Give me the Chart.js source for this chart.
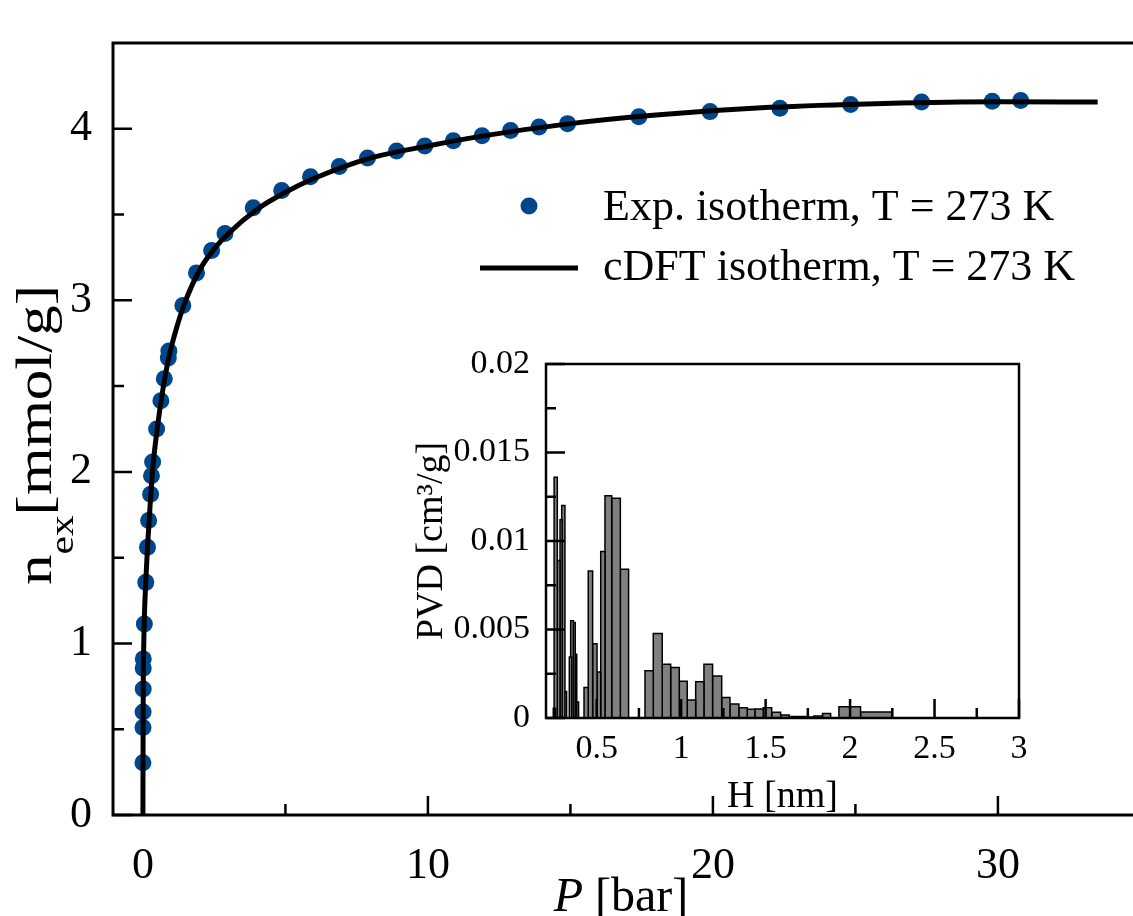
<!DOCTYPE html>
<html>
<head>
<meta charset="utf-8">
<script src="https://cdn.jsdelivr.net/npm/chart.js@4.4.1/dist/chart.umd.min.js"></script>
<style>
  body { margin: 0; background: #fff; }
  #wrap { position: relative; width: 1133px; height: 916px; overflow: hidden; }
  #main { position: absolute; left: 0; top: 0; }
  #inset { position: absolute; left: 380px; top: 330px; }
</style>
</head>
<body>
<div id="wrap">
  <canvas id="main" width="1133" height="916"></canvas>
  <canvas id="inset" width="680" height="500"></canvas>
</div>
<script>
// experimental isotherm (P in bar, n in mmol/g)
const expP = [0.0, 0.003, 0.005, 0.01, 0.01, 0.012, 0.05, 0.1, 0.16, 0.2, 0.27, 0.3, 0.34, 0.48, 0.63, 0.75, 0.89, 0.91,
  1.4, 1.88, 2.41, 2.88, 3.87, 4.87, 5.88, 6.89, 7.88, 8.9, 9.89, 10.89, 11.9, 12.9, 13.9, 14.9,
  17.4, 19.9, 22.35, 24.83, 27.32, 29.8, 30.8];
const expN = [0.305, 0.51, 0.6, 0.735, 0.855, 0.91, 1.114, 1.356, 1.561, 1.717, 1.87, 1.978, 2.057, 2.25, 2.415, 2.543, 2.664, 2.705,
  2.97, 3.16, 3.29, 3.39, 3.54, 3.64, 3.72, 3.78, 3.83, 3.87, 3.9, 3.93, 3.96, 3.99, 4.01, 4.03,
  4.07, 4.1, 4.12, 4.142, 4.156, 4.16, 4.165];

// cDFT isotherm
const dftP = [0, 0.003, 0.01, 0.03, 0.06, 0.1, 0.16, 0.25, 0.35, 0.5, 0.7, 0.9, 1.2, 1.5, 2, 2.5, 3, 4, 5, 6, 8, 10, 12, 15, 18, 22, 26, 30, 33.5];
const dftN = [0, 0.3, 0.7, 1.0, 1.2, 1.36, 1.56, 1.8, 2.03, 2.25, 2.48, 2.66, 2.85, 3.0, 3.18, 3.3, 3.39, 3.53, 3.63, 3.71, 3.83, 3.9, 3.96, 4.03, 4.08, 4.125, 4.148, 4.158, 4.156];

const pMajor = [0, 10, 20, 30], pMinor = [5, 15, 25];
const nMajor = [0, 1, 2, 3, 4], nMinor = [0.5, 1.5, 2.5, 3.5];

// inset: pore volume distribution, one bar per bin (H in nm)
const binLeft = [0.243, 0.248, 0.263, 0.283, 0.293, 0.306, 0.338, 0.346, 0.358, 0.367, 0.376,
  0.425, 0.450, 0.476, 0.502, 0.524, 0.549, 0.589, 0.640,
  0.786, 0.835, 0.888, 0.938, 0.989, 1.036, 1.086, 1.135, 1.186, 1.240,
  1.289, 1.342, 1.391, 1.437, 1.486, 1.536, 1.589, 1.640, 1.743, 1.786, 1.837, 1.934, 2.000, 2.062];
const binRight = [0.257, 0.267, 0.283, 0.296, 0.312, 0.322, 0.352, 0.362, 0.373, 0.382, 0.393,
  0.450, 0.476, 0.502, 0.524, 0.549, 0.589, 0.640, 0.689,
  0.835, 0.888, 0.938, 0.989, 1.036, 1.086, 1.135, 1.186, 1.240, 1.289,
  1.342, 1.391, 1.437, 1.486, 1.536, 1.589, 1.640, 1.743, 1.786, 1.837, 1.885, 2.000, 2.062, 2.249];
const binPvd = [0.00055, 0.0136, 0.0089, 0.0112, 0.0120, 0.0015, 0.00345, 0.0055, 0.0054, 0.0036, 0.0009,
  0.00173, 0.0083, 0.0042, 0.0026, 0.0094, 0.01256, 0.01241, 0.0084,
  0.00267, 0.00477, 0.00304, 0.00286, 0.00208, 0.00101, 0.00205, 0.00304, 0.00237, 0.00116,
  0.00079, 0.00058, 0.00049, 0.00051, 0.00058, 0.00032, 0.00017, 0.00008, 0.00005, 0.00011, 0.00026, 0.00064, 0.00064, 0.00034];

const hMajor = [0.5, 1, 1.5, 2, 2.5, 3], hMinor = [0.25, 0.75, 1.25, 1.75, 2.25, 2.75];
const pvdMajor = [0, 0.005, 0.01, 0.015, 0.02], pvdMinor = [0.0025, 0.0075, 0.0125, 0.0175];

const serif = "'Liberation Serif', 'Times New Roman', serif";
Chart.defaults.font.family = serif;
Chart.defaults.color = '#000';

function axis(major, minor, size, pad, extra) {
  return Object.assign({
    grid: { display: false },
    border: { display: false },
    afterBuildTicks: (s) => {
      s.ticks = major.concat(minor).sort((a, b) => a - b).map(v => ({ value: v, major: major.includes(v) }));
    },
    ticks: {
      autoSkip: false, maxRotation: 0, padding: pad, font: { size: size },
      callback: (v) => major.includes(v) ? String(v) : ''
    }
  }, extra);
}

// inward tick marks and the frame lines
const frameTicks = {
  id: 'frameTicks',
  afterDraw(chart, args, o) {
    let ctx = chart.ctx, a = chart.chartArea, xs = chart.scales.x, ys = chart.scales.y;
    ctx.save();
    ctx.strokeStyle = '#000';
    ctx.lineWidth = o.tickWidth;
    ctx.beginPath();
    xs.ticks.forEach(t => {
      let px = xs.getPixelForValue(t.value);
      ctx.moveTo(px, a.bottom);
      ctx.lineTo(px, a.bottom - (t.major ? o.major : o.minor));
    });
    ys.ticks.forEach(t => {
      let py = ys.getPixelForValue(t.value);
      ctx.moveTo(a.left, py);
      ctx.lineTo(a.left + (t.major ? o.major : o.minor), py);
    });
    ctx.stroke();
    ctx.lineWidth = o.frameWidth;
    ctx.beginPath();
    if (o.box) {
      ctx.rect(a.left, a.top, a.right - a.left, a.bottom - a.top);
    } else {
      ctx.moveTo(a.right + 5, a.top);
      ctx.lineTo(a.left, a.top);
      ctx.lineTo(a.left, a.bottom);
      ctx.lineTo(a.right + 5, a.bottom);
    }
    ctx.stroke();
    ctx.restore();
  }
};

// legend and the axis titles with mixed fonts
const mainLabels = {
  id: 'mainLabels',
  afterDraw(chart) {
    let ctx = chart.ctx;
    let curve = chart.data.datasets[0], dots = chart.data.datasets[1];
    ctx.save();
    ctx.fillStyle = dots.backgroundColor;
    ctx.beginPath();
    ctx.arc(529, 206, dots.pointRadius, 0, 2 * Math.PI);
    ctx.fill();
    ctx.strokeStyle = curve.borderColor;
    ctx.lineWidth = curve.borderWidth;
    ctx.beginPath();
    ctx.moveTo(480, 268);
    ctx.lineTo(578, 268);
    ctx.stroke();

    ctx.fillStyle = '#000';
    ctx.textBaseline = 'middle';
    ctx.font = '44px ' + serif;
    ctx.fillText(dots.label, 603, 208);
    ctx.fillText(curve.label, 603, 268);

    // P [bar]
    ctx.textBaseline = 'alphabetic';
    ctx.font = 'italic 48px ' + serif;
    let w1 = ctx.measureText('P').width;
    ctx.font = '48px ' + serif;
    let w2 = ctx.measureText(' [bar]').width;
    let x0 = 621 - (w1 + w2) / 2;
    ctx.font = 'italic 48px ' + serif;
    ctx.fillText('P', x0, 911);
    ctx.font = '48px ' + serif;
    ctx.fillText(' [bar]', x0 + w1, 911);

    // n_ex [mmol/g], a little drawn out along its length
    ctx.translate(51, 435);
    ctx.rotate(-Math.PI / 2);
    ctx.scale(1.22, 1);
    ctx.font = '50px ' + serif;
    let a = ctx.measureText('n').width, c = ctx.measureText('[mmol/g]').width;
    ctx.font = '34px ' + serif;
    let b = ctx.measureText('ex').width;
    let s = -(a + b + c) / 2;
    ctx.font = '50px ' + serif;
    ctx.fillText('n', s, 0);
    ctx.fillText('[mmol/g]', s + a + b, 0);
    ctx.font = '34px ' + serif;
    ctx.fillText('ex', s + a, 22);
    ctx.restore();
  }
};

new Chart(document.getElementById('main'), {
  type: 'scatter',
  data: {
    datasets: [{
      label: 'cDFT isotherm, T = 273 K',
      data: dftP.map((p, i) => ({ x: p, y: dftN[i] })),
      showLine: true, borderColor: '#000', borderWidth: 5, pointRadius: 0,
      cubicInterpolationMode: 'monotone'
    }, {
      label: 'Exp. isotherm, T = 273 K',
      data: expP.map((p, i) => ({ x: p, y: expN[i] })),
      backgroundColor: '#00468b', borderWidth: 0, pointRadius: 8.5
    }]
  },
  options: {
    responsive: false, animation: false, devicePixelRatio: 1,
    layout: { autoPadding: false, padding: { top: 43, left: 0, right: 0, bottom: 0 } },
    plugins: {
      legend: { display: false }, tooltip: { enabled: false },
      frameTicks: { tickWidth: 2.5, frameWidth: 3, major: 19, minor: 11, box: false }
    },
    scales: {
      x: axis(pMajor, pMinor, 44, 17, { min: -1.05, max: 34.74, afterFit: s => { s.height = 101; } }),
      y: axis(nMajor, nMinor, 44, 13, { min: 0, max: 4.5, afterFit: s => { s.width = 113; } })
    }
  },
  plugins: [frameTicks, mainLabels]
});

const whiteArea = {
  id: 'whiteArea',
  beforeDraw(chart) {
    let a = chart.chartArea;
    chart.ctx.save();
    chart.ctx.fillStyle = '#fff';
    chart.ctx.fillRect(a.left, a.top, a.right - a.left, a.bottom - a.top);
    chart.ctx.restore();
  }
};

new Chart(document.getElementById('inset'), {
  type: 'scatter',
  data: {
    datasets: binLeft.map((l, i) => ({
      data: [{ x: l, y: 0 }, { x: l, y: binPvd[i] }, { x: binRight[i], y: binPvd[i] }, { x: binRight[i], y: 0 }],
      showLine: true, fill: 'origin', backgroundColor: '#808080', borderColor: '#000',
      borderWidth: 1.5, pointRadius: 0, tension: 0
    }))
  },
  options: {
    responsive: false, animation: false, devicePixelRatio: 1,
    layout: { autoPadding: false, padding: { top: 34, left: 0, right: 41, bottom: 0 } },
    plugins: {
      legend: { display: false }, tooltip: { enabled: false },
      frameTicks: { tickWidth: 2.5, frameWidth: 2.5, major: 19, minor: 10, box: true }
    },
    scales: {
      x: axis(hMajor, hMinor, 34, 3, {
        min: 0.2, max: 3,
        title: { display: true, text: 'H [nm]', font: { size: 38 }, padding: { top: 0, bottom: 10 } },
        afterFit: s => { s.height = 112; }
      }),
      y: axis(pvdMajor, pvdMinor, 34, 8, {
        min: 0, max: 0.02,
        title: { display: true, text: 'PVD [cm³/g]', font: { size: 38 }, padding: { top: 29, bottom: 0 } },
        afterFit: s => { s.width = 166; }
      })
    }
  },
  plugins: [whiteArea, frameTicks]
});
</script>
</body>
</html>
